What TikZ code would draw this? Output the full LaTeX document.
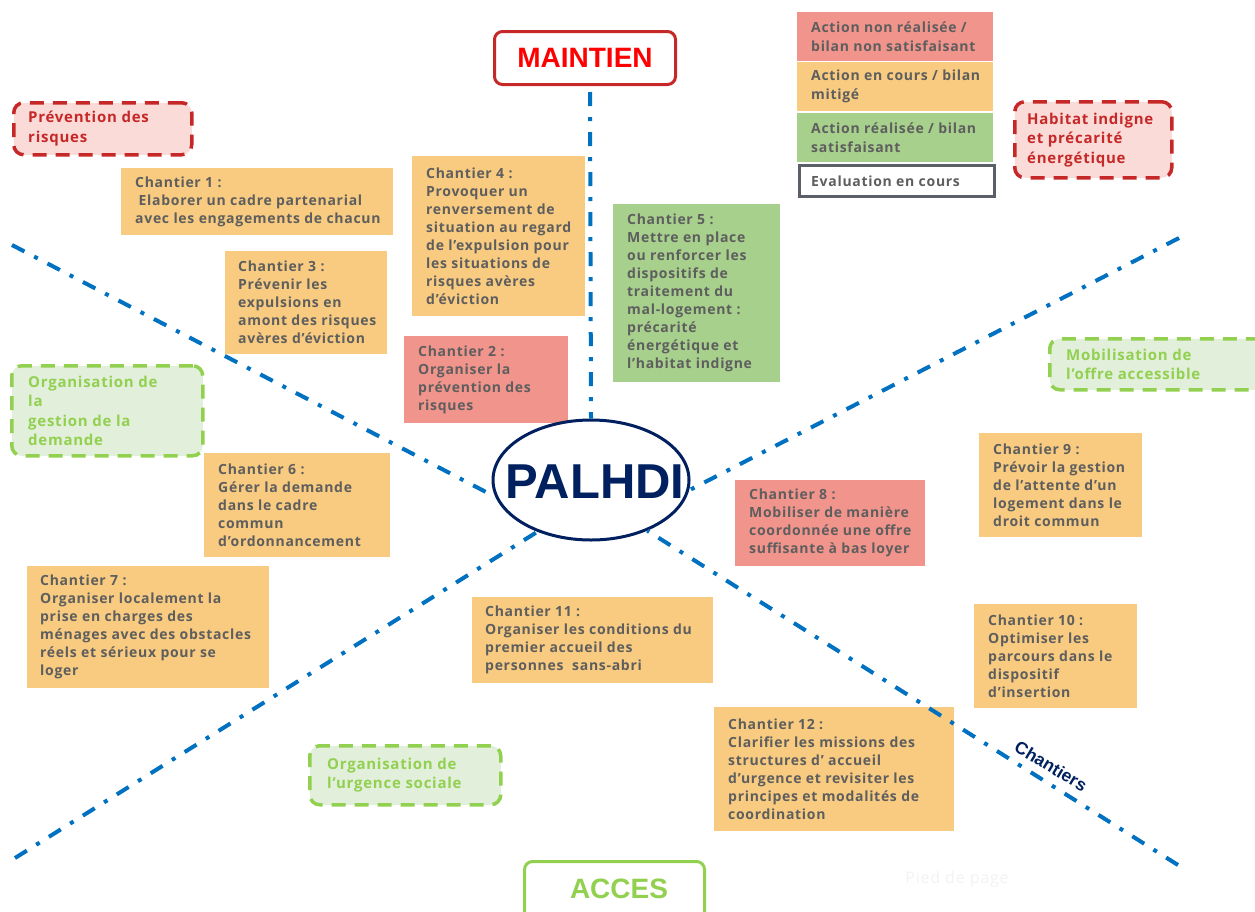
\documentclass[tikz,border=0pt]{standalone}
\usepackage{fontspec}
\setmainfont[LetterSpace=5]{Open Sans}
\newfontfamily\arialfont{Liberation Sans}
\usetikzlibrary{shapes.geometric}
\definecolor{cred}{HTML}{F1948C}
\definecolor{corange}{HTML}{F8CB80}
\definecolor{cgreen}{HTML}{A8D08D}
\definecolor{ctext}{HTML}{5E5E5E}
\definecolor{legborder}{HTML}{5B6068}
\definecolor{axisblue}{HTML}{0070C0}
\definecolor{navy}{HTML}{002060}
\definecolor{dred}{HTML}{C62828}
\definecolor{tred}{HTML}{FF0000}
\definecolor{pinkfill}{HTML}{FADBD8}
\definecolor{lgreen}{HTML}{92D050}
\definecolor{lgreenfill}{HTML}{E2EFDA}
\begin{document}
\begin{tikzpicture}[x=1pt,y=-1pt,
  cb/.style={rectangle, anchor=north west, inner sep=0pt, draw=none},
  ct/.style={anchor=west, inner sep=0pt, align=left, text=ctext,
    font=\fontsize{14}{18}\selectfont\bfseries},
  lt/.style={anchor=west, inner sep=0pt, align=left, text=ctext,
    font=\fontsize{14}{19}\selectfont\bfseries},
  redgroup/.style={rectangle, anchor=north west, inner sep=0pt, rounded corners=10pt,
    draw=dred, fill=pinkfill, line width=3.5pt, dash pattern=on 14pt off 9pt},
  greengroup/.style={rectangle, anchor=north west, inner sep=0pt, rounded corners=10pt,
    draw=lgreen, fill=lgreenfill, line width=3.5pt, dash pattern=on 14pt off 9pt},
  grt/.style={anchor=west, inner sep=0pt, align=left, text=dred,
    font=\fontsize{15}{19.5}\selectfont\bfseries},
  ggt/.style={anchor=west, inner sep=0pt, align=left, text=lgreen,
    font=\fontsize{15}{19.5}\selectfont\bfseries},
  axisline/.style={draw=axisblue, line width=4pt, dash pattern=on 14pt off 11pt on 4pt off 11pt},
]
\useasboundingbox (0,0) rectangle (1255,911);

% Legend
\node[cb, fill=cred, minimum width=196, minimum height=49] (lg1) at (797,12) {};
\node[lt] (lg1t) at ([xshift=14]lg1.west) {Action non réalisée /\\bilan non satisfaisant};
\node[cb, fill=corange, minimum width=196, minimum height=49] (lg2) at (797,62) {};
\node[lt] (lg2t) at ([xshift=14]lg2.west) {Action en cours / bilan\\mitigé};
\node[cb, fill=cgreen, minimum width=196, minimum height=49] (lg3) at (797,113) {};
\node[lt] (lg3t) at ([xshift=14]lg3.west) {Action réalisée / bilan\\satisfaisant};
\node[cb, draw=legborder, line width=3pt, fill=white, minimum width=195, minimum height=31] (lg4) at (798,164) {};
\node[lt] (lg4t) at ([xshift=13]lg4.west) {Evaluation en cours};

% Chantier boxes
\node[cb, fill=corange, minimum width=272, minimum height=67] (b1) at (121,168) {};
\node[ct] (t1) at ([xshift=14]b1.west) {Chantier 1 :\\\hspace{0.25em}Elaborer un cadre partenarial\\avec les engagements de chacun};

\node[cb, fill=corange, minimum width=162, minimum height=103] (b3) at (225,251) {};
\node[ct] (t3) at ([xshift=13]b3.west) {Chantier 3 :\\Prévenir les\\expulsions en\\amont des risques\\avères d’éviction};

\node[cb, fill=corange, minimum width=173, minimum height=160] (b4) at (412,156) {};
\node[ct] (t4) at ([xshift=14]b4.west) {Chantier 4 :\\Provoquer un\\renversement de\\situation au regard\\de l’expulsion pour\\les situations de\\risques avères\\d’éviction};

\node[cb, fill=cred, minimum width=164, minimum height=87] (b2) at (404,336) {};
\node[ct] (t2) at ([xshift=14]b2.west) {Chantier 2 :\\Organiser la\\prévention des\\risques};

\node[cb, fill=cgreen, minimum width=167, minimum height=178] (b5) at (613,204) {};
\node[ct] (t5) at ([xshift=14]b5.west) {Chantier 5 :\\Mettre en place\\ou renforcer les\\dispositifs de\\traitement du\\mal-logement :\\précarité\\énergétique et\\l’habitat indigne};

\node[cb, fill=corange, minimum width=186, minimum height=104] (b6) at (204,453) {};
\node[ct] (t6) at ([xshift=14]b6.west) {Chantier 6 :\\Gérer la demande\\dans le cadre\\commun\\d’ordonnancement};

\node[cb, fill=corange, minimum width=242, minimum height=122] (b7) at (27,566) {};
\node[ct] (t7) at ([xshift=13]b7.west) {Chantier 7 :\\Organiser localement la\\prise en charges des\\ménages avec des obstacles\\réels et sérieux pour se\\loger};

\node[cb, fill=cred, minimum width=190, minimum height=86] (b8) at (735,480) {};
\node[ct] (t8) at ([xshift=14]b8.west) {Chantier 8 :\\Mobiliser de manière\\coordonnée une offre\\suffisante à bas loyer};

\node[cb, fill=corange, minimum width=163, minimum height=104] (b9) at (979,433) {};
\node[ct] (t9) at ([xshift=14]b9.west) {Chantier 9 :\\Prévoir la gestion\\de l’attente d’un\\logement dans le\\droit commun};

\node[cb, fill=corange, minimum width=163, minimum height=104] (b10) at (974,604) {};
\node[ct] (t10) at ([xshift=14]b10.west) {Chantier 10 :\\Optimiser les\\parcours dans le\\dispositif\\d’insertion};

\node[cb, fill=corange, minimum width=241, minimum height=86] (b11) at (472,597) {};
\node[ct] (t11) at ([xshift=13]b11.west) {Chantier 11 :\\Organiser les conditions du\\premier accueil des\\personnes\ \ sans-abri};

\node[cb, fill=corange, minimum width=240, minimum height=124] (b12) at (714,707) {};
\node[ct] (t12) at ([xshift=14]b12.west) {Chantier 12 :\\Clarifier les missions des\\structures d’ accueil\\d’urgence et revisiter les\\principes et modalités de\\coordination};

% Group boxes
\node[redgroup, minimum width=178, minimum height=52] (g1) at (12,101) {};
\node[grt] (g1t) at ([xshift=16]g1.west) {Prévention des\\risques};
\node[redgroup, minimum width=157, minimum height=76] (g2) at (1013,100) {};
\node[grt] (g2t) at ([xshift=14]g2.west) {Habitat indigne\\et précarité\\énergétique};
\node[greengroup, minimum width=191, minimum height=90] (g3) at (10,364) {};
\node[ggt] (g3t) at ([xshift=18]g3.west) {Organisation de\\la\\gestion de la\\demande};
\node[greengroup, minimum width=220, minimum height=51] (g4) at (1048,337) {};
\node[ggt] (g4t) at ([xshift=18]g4.west) {Mobilisation de\\l’offre accessible};
\node[greengroup, minimum width=191, minimum height=59] (g5) at (308,744) {};
\node[ggt] (g5t) at ([xshift=19]g5.west) {Organisation de\\l’urgence sociale};

% Titles
\node[rectangle, anchor=north west, draw=dred, line width=3pt, rounded corners=8pt, fill=white,
  minimum width=181, minimum height=53, inner sep=0pt] (maintien) at (493,30) {};
\node[text=tred, font=\arialfont\bfseries\fontsize{28}{30}\selectfont, inner sep=0pt] (maintient) at (maintien.center) {MAINTIEN};
\node[rectangle, anchor=north west, draw=lgreen, line width=3pt, rounded corners=8pt, fill=white,
  minimum width=180, minimum height=62, inner sep=0pt] (acces) at (523,860) {};
\node[text=lgreen, font=\arialfont\bfseries\fontsize{28}{30}\selectfont, inner sep=0pt] (accest) at (619,889) {ACCES};

% Centre
\node[ellipse, draw=navy, line width=3pt, fill=white, minimum width=196, minimum height=120, inner sep=0pt] (palhdi) at (591,480) {};
\node[text=navy, font=\arialfont\bfseries\fontsize{49}{52}\selectfont, inner sep=0pt] (palhdit) at (595,482) {PALHDI};

% Axes
\coordinate (atop) at (590,92);
\coordinate (atl) at (12,245);
\coordinate (atr) at (1179,238);
\coordinate (abl) at (15,858);
\coordinate (abr) at (1178,865);
\draw[axisline] (atop) -- (palhdi.north);
\draw[axisline] (atl) -- (palhdi.190);
\draw[axisline] (atr) -- (palhdi.354);
\draw[axisline] (abl) -- (palhdi.224);
\draw[axisline] (abr) -- (palhdi.318);

\node[text=navy, font=\arialfont\bfseries\fontsize{17.5}{19}\selectfont, rotate=-31, inner sep=0pt] (chantiers) at (1051,766) {Chantiers};

\node[text=black!5, font=\fontsize{16}{18}\selectfont, inner sep=0pt] (pied) at (957,879) {Pied de page};
\end{tikzpicture}
\end{document}
